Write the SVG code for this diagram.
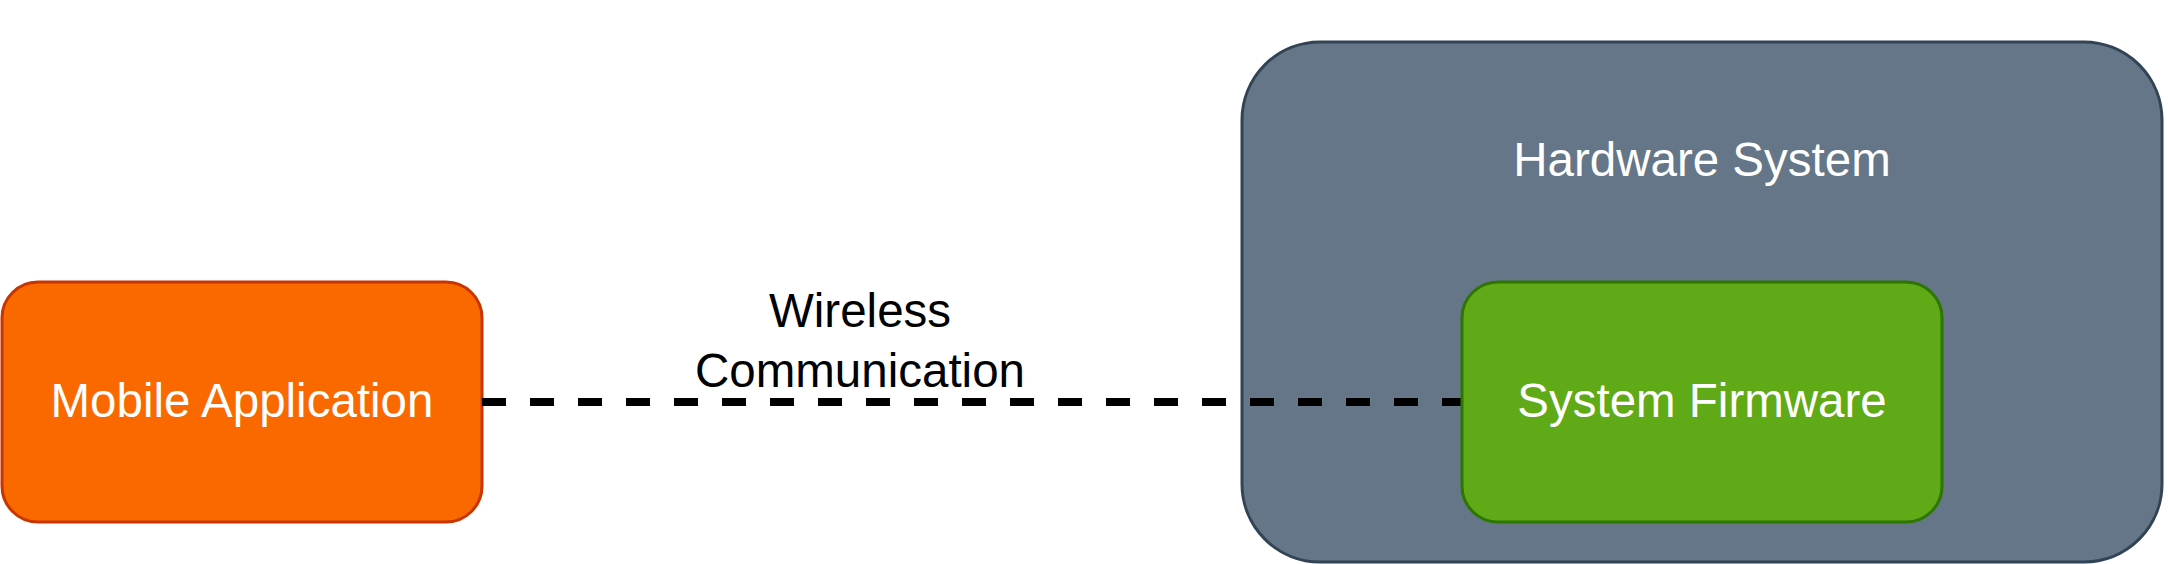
<svg xmlns="http://www.w3.org/2000/svg" width="2168" height="564" viewBox="0 0 2168 564">
<style>
.lbl{font-family:"Liberation Sans",Arial,sans-serif;font-size:47.5px;text-anchor:middle}
.w{fill:#ffffff}
.k{fill:#000000}
</style>
<rect width="2168" height="564" fill="#ffffff"/>
<g id="hardware-system">
<rect x="1242" y="42" width="920" height="520" rx="78" ry="78" fill="#647687" stroke="#314354" stroke-width="3"/>
<text class="lbl w" x="1702" y="176">Hardware System</text>
</g>
<g id="mobile-application">
<rect x="2" y="282" width="480" height="240" rx="36" ry="36" fill="#fa6800" stroke="#c73500" stroke-width="3"/>
<text class="lbl w" x="242" y="417">Mobile Application</text>
</g>
<g id="connectors">
<line x1="482" y1="402" x2="1462" y2="402" stroke="#000000" stroke-width="8" stroke-dasharray="24 24"/>
<text class="lbl k" x="860" y="327">Wireless</text>
<text class="lbl k" x="860" y="387">Communication</text>
</g>
<g id="system-firmware">
<rect x="1462" y="282" width="480" height="240" rx="36" ry="36" fill="#60a917" stroke="#2d7600" stroke-width="3"/>
<text class="lbl w" x="1702" y="417">System Firmware</text>
</g>
</svg>
